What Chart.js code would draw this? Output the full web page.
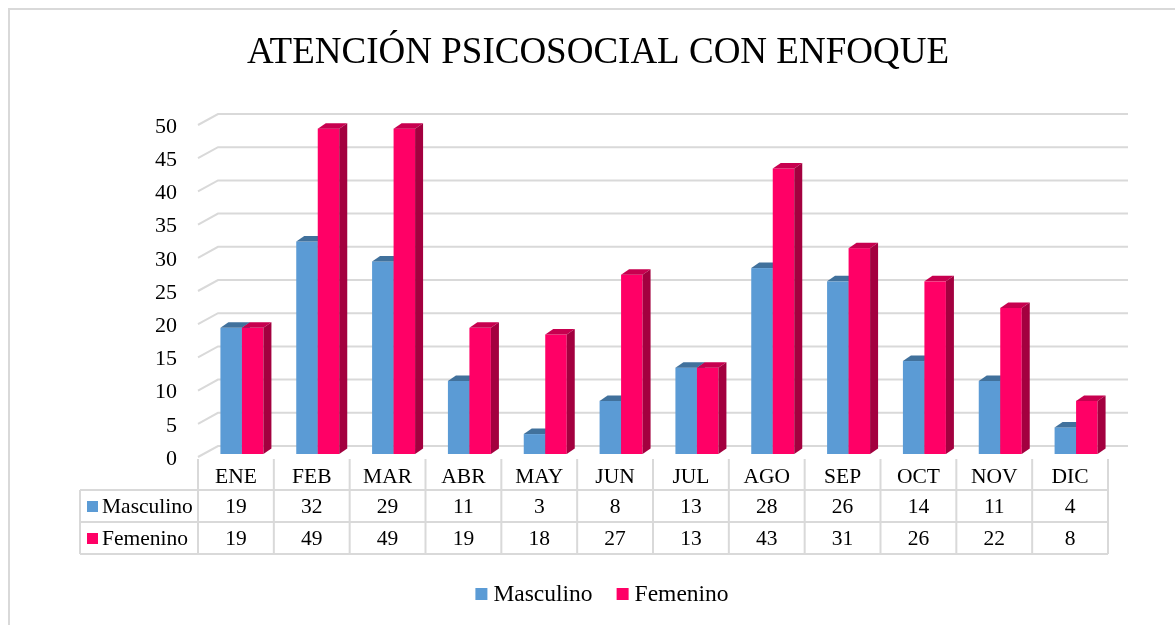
<!DOCTYPE html>
<html>
<head>
<meta charset="utf-8">
<title>Atención psicosocial con enfoque</title>
<script src="https://cdn.jsdelivr.net/npm/chart.js@4.4.0/dist/chart.umd.min.js"></script>
<style>
  html, body { margin: 0; padding: 0; background: #fff; }
  #chart { display: block; }
</style>
</head>
<body>
<canvas id="chart" width="1175" height="625"></canvas>
<script>
// datos por mes
const meses = ['ENE', 'FEB', 'MAR', 'ABR', 'MAY', 'JUN', 'JUL', 'AGO', 'SEP', 'OCT', 'NOV', 'DIC'];
const masculino = [19, 32, 29, 11, 3, 8, 13, 28, 26, 14, 11, 4];
const femenino = [19, 49, 49, 19, 18, 27, 13, 43, 31, 26, 22, 8];
const seriesNames = ['Masculino', 'Femenino'];
const titulo = 'ATENCIÓN PSICOSOCIAL CON ENFOQUE';

const FONT = '"Liberation Serif", "Times New Roman", serif';
const GRID = '#d9d9d9';

// colores: frente, tapa, lateral
const colores = [
    {front: '#5b9bd5', top: '#41719c', side: '#3c6a94'},
    {front: '#ff0066', top: '#c7004f', side: '#a3003f'}
];

// profundidad 3D
const DX = 8, DY = -5.5;       // barras
const WX = 20, WY = -11;       // pared del fondo
const SHIFT = 6;               // la tabla empieza antes que el eje de barras

const bars3d = {
    id: 'bars3d',
    beforeDatasetsDraw(chart) {
        const {ctx, chartArea, scales: {y}} = chart;
        const x0 = chartArea.left - SHIFT;
        const x1 = chartArea.right - SHIFT;
        ctx.save();
        ctx.strokeStyle = GRID;
        ctx.lineWidth = 2;
        ctx.font = '22px ' + FONT;
        ctx.fillStyle = '#000';
        ctx.textAlign = 'right';
        ctx.textBaseline = 'middle';
        y.ticks.forEach(t => {
            const py = y.getPixelForValue(t.value) + 3;
            ctx.beginPath();
            ctx.moveTo(x0, py);
            ctx.lineTo(x0 + WX, py + WY);
            ctx.lineTo(x1 + WX, py + WY);
            ctx.stroke();
            ctx.fillText(String(t.value), x0 - 21, py + 2);
        });
        ctx.restore();
    },
    beforeDatasetDraw() {
        return false;
    },
    afterDatasetsDraw(chart) {
        const {ctx} = chart;
        const metas = chart.data.datasets.map((d, i) => chart.getDatasetMeta(i));
        ctx.save();
        for (let j = 0; j < meses.length; j++) {
            metas.forEach((meta, i) => {
                const bar = meta.data[j];
                const c = colores[i];
                const w = bar.width;
                const l = bar.x - w / 2, r = bar.x + w / 2;
                const top = bar.y, base = bar.base;
                // frente
                ctx.fillStyle = c.front;
                ctx.fillRect(l, top, w, base - top);
                // tapa
                ctx.fillStyle = c.top;
                ctx.beginPath();
                ctx.moveTo(l, top);
                ctx.lineTo(l + DX, top + DY);
                ctx.lineTo(r + DX, top + DY);
                ctx.lineTo(r, top);
                ctx.closePath();
                ctx.fill();
                // lateral
                ctx.fillStyle = c.side;
                ctx.beginPath();
                ctx.moveTo(r, top);
                ctx.lineTo(r + DX, top + DY);
                ctx.lineTo(r + DX, base + DY);
                ctx.lineTo(r, base);
                ctx.closePath();
                ctx.fill();
            });
        }
        ctx.restore();
    },
    afterDraw(chart) {
        const {ctx, chartArea} = chart;
        const colW = (chartArea.right - chartArea.left) / meses.length;
        const x0 = chartArea.left - SHIFT;
        const xEnd = x0 + colW * meses.length;
        const tblLeft = 80;
        const rowCat = 459, row1 = 490, row2 = 522, row3 = 554;
        ctx.save();

        // borde exterior
        ctx.strokeStyle = GRID;
        ctx.lineWidth = 2;
        ctx.strokeRect(9, 9, 1300, 700);

        // titulo
        ctx.fillStyle = '#000';
        ctx.font = '37px ' + FONT;
        ctx.textAlign = 'center';
        ctx.textBaseline = 'alphabetic';
        ctx.fillText(titulo, 598, 63);

        // tabla de datos
        ctx.beginPath();
        [row1, row2, row3].forEach(yy => {
            ctx.moveTo(tblLeft, yy);
            ctx.lineTo(xEnd, yy);
        });
        ctx.moveTo(tblLeft, row1);
        ctx.lineTo(tblLeft, row3);
        for (let i = 0; i <= meses.length; i++) {
            const xx = x0 + colW * i;
            ctx.moveTo(xx, rowCat);
            ctx.lineTo(xx, row3);
        }
        ctx.stroke();

        ctx.font = '21.5px ' + FONT;
        ctx.textBaseline = 'middle';
        ctx.textAlign = 'center';
        const rows = [masculino, femenino];
        meses.forEach((m, i) => {
            const cx = x0 + colW * (i + 0.5);
            ctx.fillText(m, cx, (rowCat + row1) / 2 + 3);
            rows.forEach((vals, k) => {
                const ry = k === 0 ? (row1 + row2) / 2 : (row2 + row3) / 2;
                ctx.fillText(String(vals[i]), cx, ry + 1);
            });
        });
        ctx.textAlign = 'left';
        seriesNames.forEach((name, k) => {
            const ry = k === 0 ? (row1 + row2) / 2 : (row2 + row3) / 2;
            ctx.fillStyle = colores[k].front;
            ctx.fillRect(87, ry - 5, 11, 11);
            ctx.fillStyle = '#000';
            ctx.fillText(name, 102, ry + 1);
        });

        // leyenda
        ctx.font = '23.5px ' + FONT;
        const sq = 12, gap = 6, between = 24;
        const widths = seriesNames.map(n => ctx.measureText(n).width);
        const total = widths.reduce((s, w) => s + sq + gap + w, 0) + between;
        let lx = 602 - total / 2;
        const ly = 594;
        seriesNames.forEach((name, k) => {
            ctx.fillStyle = colores[k].front;
            ctx.fillRect(lx, ly - 6, sq, sq);
            lx += sq + gap;
            ctx.fillStyle = '#000';
            ctx.fillText(name, lx, ly + 1);
            lx += widths[k] + between;
        });
        ctx.restore();
    }
};

new Chart(document.getElementById('chart'), {
    type: 'bar',
    data: {
        labels: meses,
        datasets: [
            {label: seriesNames[0], data: masculino, backgroundColor: colores[0].front},
            {label: seriesNames[1], data: femenino, backgroundColor: colores[1].front}
        ]
    },
    options: {
        responsive: false,
        animation: false,
        events: [],
        layout: {padding: {left: 204, right: 61, top: 122, bottom: 171}},
        categoryPercentage: 0.567,
        barPercentage: 1,
        plugins: {
            legend: {display: false},
            title: {display: false},
            tooltip: {enabled: false}
        },
        scales: {
            x: {display: false},
            y: {display: false, min: 0, max: 50, ticks: {stepSize: 5}}
        }
    },
    plugins: [bars3d]
});
</script>
</body>
</html>
